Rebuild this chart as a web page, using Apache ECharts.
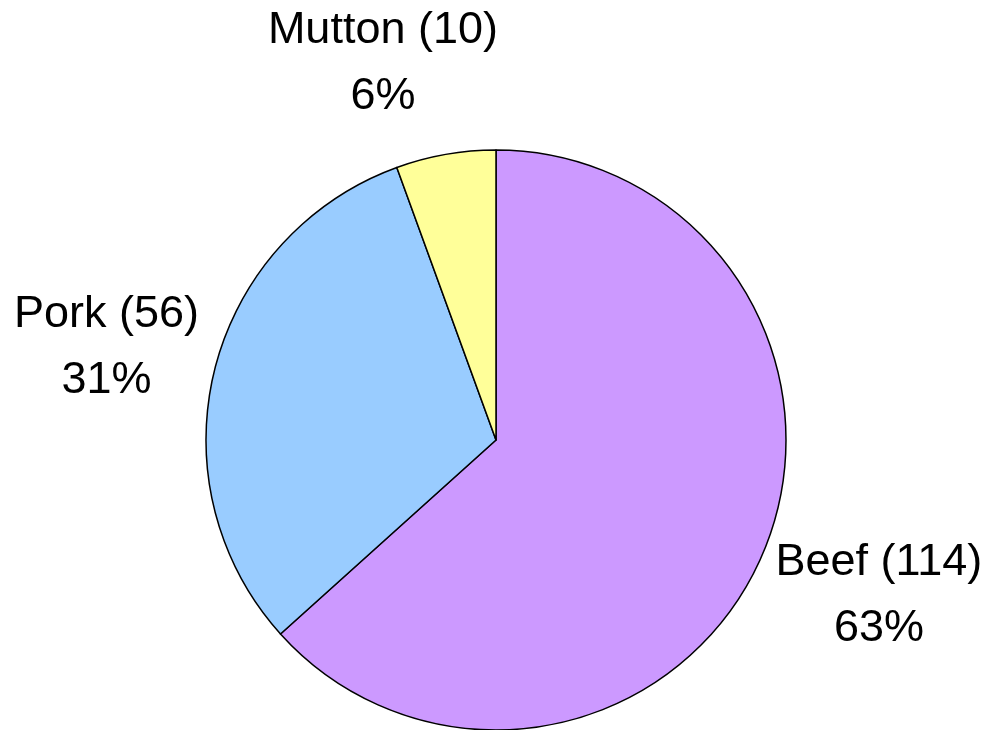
<!DOCTYPE html>
<html>
<head>
<meta charset="utf-8">
<script src="https://cdn.jsdelivr.net/npm/echarts@6/dist/echarts.min.js"></script>
<style>
html,body{margin:0;padding:0;background:#fff;}
#chart{width:990px;height:730px;}
</style>
</head>
<body>
<div id="chart"></div>
<script>
const categories = ['Beef', 'Pork', 'Mutton'];
const values = [114, 56, 10];
const colors = ['#CC99FF', '#99CCFF', '#FFFF99'];

const CX = 496, CY = 440, R = 290, GAPX = 16, GAPY = 26;
const total = values.reduce((a, b) => a + b, 0);

const chart = echarts.init(document.getElementById('chart'), null, {renderer: 'canvas'});
chart.setOption({
  animation: false,
  backgroundColor: '#ffffff',
  series: [{
    type: 'pie',
    center: [CX, CY],
    radius: R,
    startAngle: 90,
    clockwise: true,
    avoidLabelOverlap: false,
    percentPrecision: 0,
    itemStyle: {borderColor: '#000000', borderWidth: 1.5},
    label: {
      show: true,
      position: 'outside',
      formatter: '{b} ({c})\n{d}%',
      fontFamily: 'Liberation Sans, Arial, sans-serif',
      fontSize: 45,
      lineHeight: 66,
      color: '#000000'
    },
    labelLine: {show: false, length: 10, length2: 0},
    labelLayout: function (p) {
      const i = p.dataIndex;
      let before = 0;
      for (let j = 0; j < i; j++) before += values[j];
      const mid = (90 - (before + values[i] / 2) / total * 360) * Math.PI / 180;
      const ux = Math.cos(mid), uy = -Math.sin(mid);
      const w = p.labelRect.width, h = p.labelRect.height;
      const fx = Math.max(-1, Math.min(1, ux * 3));
      return {
        x: CX + (R + GAPX) * ux + w / 2 * fx,
        y: CY + (R + GAPY) * uy + h / 2 * uy,
        align: 'center',
        verticalAlign: 'middle'
      };
    },
    data: categories.map((c, i) => ({name: c, value: values[i], itemStyle: {color: colors[i]}}))
  }]
});
</script>
</body>
</html>
